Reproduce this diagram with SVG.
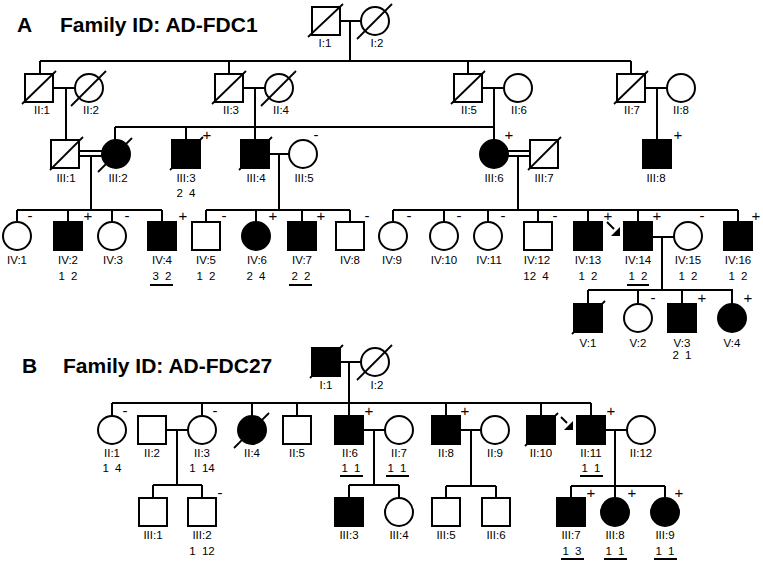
<svg xmlns="http://www.w3.org/2000/svg" width="763" height="563" viewBox="0 0 763 563">
<style>
.s{fill:#fff;stroke:#000;stroke-width:2}
.a{fill:#000;stroke:#000;stroke-width:2}
.d{stroke:#000;stroke-width:1.8;fill:none}
.c line,.c polyline{stroke:#000;stroke-width:2;fill:none}
text{font-family:"Liberation Sans",Arial,sans-serif;fill:#000}
.l{font-size:11.5px;text-anchor:middle}
.n{font-size:11.5px;text-anchor:middle;word-spacing:3px}
.g{font-size:15px;text-anchor:middle}
.t{font-size:21px;font-weight:bold}
.u{stroke:#000;stroke-width:2}
</style>
<rect width="763" height="563" fill="#fff"/>
<text class="t" x="17" y="32">A</text>
<text class="t" x="60" y="32">Family ID: AD-FDC1</text>
<text class="t" x="22" y="373">B</text>
<text class="t" x="63" y="373">Family ID: AD-FDC27</text>

<g id="connectors" class="c">
<!-- Panel A -->
<line x1="340" y1="21" x2="361" y2="21"/>
<line x1="350" y1="21" x2="350" y2="61"/>
<line x1="40" y1="61" x2="631" y2="61"/>
<line x1="40" y1="61" x2="40" y2="74"/>
<line x1="229" y1="61" x2="229" y2="74"/>
<line x1="468" y1="61" x2="468" y2="74"/>
<line x1="631" y1="61" x2="631" y2="74"/>
<line x1="53" y1="88" x2="75" y2="88"/>
<line x1="66" y1="88" x2="66" y2="140"/>
<line x1="243" y1="88" x2="265" y2="88"/>
<line x1="255" y1="88" x2="255" y2="140"/>
<line x1="482" y1="88" x2="504" y2="88"/>
<line x1="494" y1="88" x2="494" y2="140"/>
<line x1="645" y1="88" x2="667" y2="88"/>
<line x1="657" y1="88" x2="657" y2="140"/>
<line x1="115" y1="127" x2="494" y2="127"/>
<line x1="115" y1="127" x2="115" y2="140"/>
<line x1="186" y1="127" x2="186" y2="140"/>
<line x1="79" y1="151" x2="102" y2="151"/>
<line x1="79" y1="156" x2="102" y2="156"/>
<line x1="91" y1="156" x2="91" y2="210"/>
<line x1="269" y1="154" x2="289" y2="154"/>
<line x1="279" y1="154" x2="279" y2="210"/>
<line x1="508" y1="151" x2="530" y2="151"/>
<line x1="508" y1="156" x2="530" y2="156"/>
<line x1="518" y1="156" x2="518" y2="210"/>
<line x1="17" y1="210" x2="162" y2="210"/>
<line x1="17" y1="210" x2="17" y2="222"/>
<line x1="68" y1="210" x2="68" y2="222"/>
<line x1="112" y1="210" x2="112" y2="222"/>
<line x1="162" y1="210" x2="162" y2="222"/>
<line x1="206" y1="210" x2="350" y2="210"/>
<line x1="206" y1="210" x2="206" y2="222"/>
<line x1="256" y1="210" x2="256" y2="222"/>
<line x1="302" y1="210" x2="302" y2="222"/>
<line x1="350" y1="210" x2="350" y2="222"/>
<line x1="393" y1="210" x2="738" y2="210"/>
<line x1="393" y1="210" x2="393" y2="222"/>
<line x1="444" y1="210" x2="444" y2="222"/>
<line x1="488" y1="210" x2="488" y2="222"/>
<line x1="538" y1="210" x2="538" y2="222"/>
<line x1="588" y1="210" x2="588" y2="222"/>
<line x1="638" y1="210" x2="638" y2="222"/>
<line x1="738" y1="210" x2="738" y2="222"/>
<line x1="652" y1="237" x2="674" y2="237"/>
<line x1="662" y1="237" x2="662" y2="290"/>
<line x1="588" y1="290" x2="733" y2="290"/>
<line x1="588" y1="290" x2="588" y2="304"/>
<line x1="638" y1="290" x2="638" y2="304"/>
<line x1="682" y1="290" x2="682" y2="304"/>
<line x1="732" y1="290" x2="732" y2="304"/>
<!-- Panel B -->
<line x1="340" y1="362" x2="361" y2="362"/>
<line x1="349" y1="362" x2="349" y2="416"/>
<line x1="112" y1="403" x2="591" y2="403"/>
<line x1="112" y1="403" x2="112" y2="416"/>
<line x1="202" y1="403" x2="202" y2="416"/>
<line x1="252" y1="403" x2="252" y2="416"/>
<line x1="297" y1="403" x2="297" y2="416"/>
<line x1="446" y1="403" x2="446" y2="416"/>
<line x1="541" y1="403" x2="541" y2="416"/>
<line x1="591" y1="403" x2="591" y2="416"/>
<line x1="166" y1="430" x2="188" y2="430"/>
<line x1="177" y1="430" x2="177" y2="485"/>
<line x1="153" y1="485" x2="202" y2="485"/>
<line x1="153" y1="485" x2="153" y2="498"/>
<line x1="202" y1="485" x2="202" y2="498"/>
<line x1="363" y1="430" x2="385" y2="430"/>
<line x1="374" y1="430" x2="374" y2="485"/>
<line x1="349" y1="485" x2="399" y2="485"/>
<line x1="349" y1="485" x2="349" y2="498"/>
<line x1="399" y1="485" x2="399" y2="498"/>
<line x1="460" y1="430" x2="481" y2="430"/>
<line x1="471" y1="430" x2="471" y2="486"/>
<line x1="446" y1="486" x2="496" y2="486"/>
<line x1="446" y1="486" x2="446" y2="498"/>
<line x1="496" y1="486" x2="496" y2="498"/>
<line x1="605" y1="430" x2="627" y2="430"/>
<line x1="615" y1="430" x2="615" y2="486"/>
<line x1="571" y1="486" x2="665" y2="486"/>
<line x1="571" y1="486" x2="571" y2="498"/>
<line x1="615" y1="486" x2="615" y2="498"/>
<line x1="665" y1="486" x2="665" y2="498"/>
</g>

<!-- Panel A nodes -->
<g id="A-I1"><rect class="s" x="312" y="7" width="28" height="28"/><line class="d" x1="308" y1="37" x2="343" y2="4"/><text class="l" x="325" y="47">I:1</text></g>
<g id="A-I2"><circle class="s" cx="375" cy="21" r="14"/><line class="d" x1="357" y1="39" x2="392" y2="4"/><text class="l" x="377" y="47">I:2</text></g>
<g id="A-II1"><rect class="s" x="25" y="74" width="28" height="28"/><line class="d" x1="22" y1="104" x2="56" y2="71"/><text class="l" x="42" y="114">II:1</text></g>
<g id="A-II2"><circle class="s" cx="89" cy="88" r="14"/><line class="d" x1="71" y1="106" x2="106" y2="71"/><text class="l" x="91" y="114">II:2</text></g>
<g id="A-II3"><rect class="s" x="215" y="74" width="28" height="28"/><line class="d" x1="212" y1="104" x2="246" y2="71"/><text class="l" x="231" y="114">II:3</text></g>
<g id="A-II4"><circle class="s" cx="279" cy="88" r="14"/><line class="d" x1="261" y1="106" x2="296" y2="71"/><text class="l" x="281" y="114">II:4</text></g>
<g id="A-II5"><rect class="s" x="454" y="74" width="28" height="28"/><line class="d" x1="451" y1="104" x2="485" y2="71"/><text class="l" x="469" y="114">II:5</text></g>
<g id="A-II6"><circle class="s" cx="518" cy="88" r="14"/><text class="l" x="519" y="114">II:6</text></g>
<g id="A-II7"><rect class="s" x="617" y="74" width="28" height="28"/><line class="d" x1="614" y1="104" x2="648" y2="71"/><text class="l" x="632" y="114">II:7</text></g>
<g id="A-II8"><circle class="s" cx="681" cy="88" r="14"/><text class="l" x="681" y="114">II:8</text></g>

<g id="A-III1"><rect class="s" x="51" y="140" width="28" height="28"/><line class="d" x1="50" y1="170" x2="83" y2="137"/><text class="l" x="66" y="182">III:1</text></g>
<g id="A-III2"><circle class="a" cx="116" cy="154" r="14"/><line class="d" x1="98" y1="172" x2="132" y2="138"/><text class="l" x="118" y="182">III:2</text></g>
<g id="A-III3"><rect class="a" x="172" y="140" width="28" height="28"/><line class="d" x1="170" y1="170" x2="203" y2="137"/><text class="g" x="207" y="140">+</text><text class="l" x="186" y="182">III:3</text><text class="n" x="186" y="197">2 4</text></g>
<g id="A-III4"><rect class="a" x="241" y="140" width="28" height="28"/><line class="d" x1="239" y1="170" x2="272" y2="137"/><text class="l" x="256" y="182">III:4</text></g>
<g id="A-III5"><circle class="s" cx="303" cy="154" r="14"/><text class="g" x="316" y="140">-</text><text class="l" x="304" y="182">III:5</text></g>
<g id="A-III6"><circle class="a" cx="494" cy="154" r="14"/><text class="g" x="509" y="140">+</text><text class="l" x="494" y="182">III:6</text></g>
<g id="A-III7"><rect class="s" x="530" y="140" width="28" height="28"/><line class="d" x1="528" y1="170" x2="561" y2="137"/><text class="l" x="544" y="182">III:7</text></g>
<g id="A-III8"><rect class="a" x="643" y="140" width="28" height="28"/><text class="g" x="678" y="140">+</text><text class="l" x="656" y="182">III:8</text></g>

<g id="A-IV1"><circle class="s" cx="17" cy="236" r="14"/><text class="g" x="30" y="221">-</text><text class="l" x="17" y="264">IV:1</text></g>
<g id="A-IV2"><rect class="a" x="54" y="222" width="28" height="28"/><text class="g" x="88" y="221">+</text><text class="l" x="68" y="264">IV:2</text><text class="n" x="68" y="280">1 2</text></g>
<g id="A-IV3"><circle class="s" cx="112" cy="236" r="14"/><text class="g" x="127" y="221">-</text><text class="l" x="113" y="264">IV:3</text></g>
<g id="A-IV4"><rect class="a" x="148" y="222" width="28" height="28"/><text class="g" x="183" y="221">+</text><text class="l" x="162" y="264">IV:4</text><text class="n" x="162" y="280">3 2</text><line class="u" x1="150" y1="285" x2="173" y2="285"/></g>
<g id="A-IV5"><rect class="s" x="192" y="222" width="28" height="28"/><text class="g" x="224" y="221">-</text><text class="l" x="206" y="264">IV:5</text><text class="n" x="206" y="280">1 2</text></g>
<g id="A-IV6"><circle class="a" cx="256" cy="236" r="14"/><text class="g" x="273" y="221">+</text><text class="l" x="257" y="264">IV:6</text><text class="n" x="256" y="280">2 4</text></g>
<g id="A-IV7"><rect class="a" x="288" y="222" width="28" height="28"/><text class="g" x="321" y="221">+</text><text class="l" x="302" y="264">IV:7</text><text class="n" x="301" y="280">2 2</text><line class="u" x1="289" y1="285" x2="312" y2="285"/></g>
<g id="A-IV8"><rect class="s" x="336" y="222" width="28" height="28"/><text class="g" x="367" y="221">-</text><text class="l" x="350" y="264">IV:8</text></g>
<g id="A-IV9"><circle class="s" cx="393" cy="236" r="14"/><text class="g" x="409" y="221">-</text><text class="l" x="392" y="264">IV:9</text></g>
<g id="A-IV10"><circle class="s" cx="444" cy="236" r="14"/><text class="g" x="459" y="221">-</text><text class="l" x="444" y="264">IV:10</text></g>
<g id="A-IV11"><circle class="s" cx="488" cy="236" r="14"/><text class="g" x="503" y="221">-</text><text class="l" x="489" y="264">IV:11</text></g>
<g id="A-IV12"><rect class="s" x="524" y="222" width="28" height="28"/><text class="g" x="555" y="221">-</text><text class="l" x="537" y="264">IV:12</text><text class="n" x="536" y="280">12 4</text></g>
<g id="A-IV13"><rect class="a" x="574" y="222" width="28" height="28"/><text class="g" x="608" y="221">+</text><text class="l" x="588" y="264">IV:13</text><text class="n" x="588" y="280">1 2</text></g>
<g id="A-IV14"><rect class="a" x="624" y="222" width="28" height="28"/><line x1="607" y1="222" x2="614" y2="229" stroke="#000" stroke-width="2"/><polygon points="620,227 620,236 611,236" fill="#000"/><text class="g" x="657" y="221">+</text><text class="l" x="638" y="264">IV:14</text><text class="n" x="638" y="280">1 2</text><line class="u" x1="627" y1="285" x2="649" y2="285"/></g>
<g id="A-IV15"><circle class="s" cx="688" cy="236" r="14"/><text class="g" x="702" y="221">-</text><text class="l" x="688" y="264">IV:15</text><text class="n" x="688" y="280">1 2</text></g>
<g id="A-IV16"><rect class="a" x="724" y="222" width="28" height="28"/><text class="g" x="756" y="221">+</text><text class="l" x="738" y="264">IV:16</text><text class="n" x="738" y="280">1 2</text></g>

<g id="A-V1"><rect class="a" x="574" y="304" width="28" height="28"/><line class="d" x1="572" y1="334" x2="605" y2="301"/><text class="l" x="588" y="347">V:1</text></g>
<g id="A-V2"><circle class="s" cx="638" cy="318" r="14"/><text class="g" x="653" y="303">-</text><text class="l" x="638" y="347">V:2</text></g>
<g id="A-V3"><rect class="a" x="668" y="304" width="28" height="28"/><text class="g" x="702" y="303">+</text><text class="l" x="682" y="347">V:3</text><text class="n" x="682" y="359">2 1</text></g>
<g id="A-V4"><circle class="a" cx="732" cy="318" r="14"/><text class="g" x="748" y="303">+</text><text class="l" x="732" y="347">V:4</text></g>

<!-- Panel B nodes -->
<g id="B-I1"><rect class="a" x="312" y="348" width="28" height="28"/><line class="d" x1="310" y1="378" x2="343" y2="345"/><text class="l" x="326" y="389">I:1</text></g>
<g id="B-I2"><circle class="s" cx="375" cy="362" r="14"/><line class="d" x1="357" y1="380" x2="392" y2="345"/><text class="l" x="377" y="389">I:2</text></g>
<g id="B-II1"><circle class="s" cx="112" cy="430" r="14"/><text class="g" x="125" y="416">-</text><text class="l" x="112" y="457">II:1</text><text class="n" x="112" y="472">1 4</text></g>
<g id="B-II2"><rect class="s" x="138" y="416" width="28" height="28"/><text class="l" x="152" y="457">II:2</text></g>
<g id="B-II3"><circle class="s" cx="202" cy="430" r="14"/><text class="g" x="215" y="416">-</text><text class="l" x="202" y="457">II:3</text><text class="n" x="202" y="472">1 14</text></g>
<g id="B-II4"><circle class="a" cx="252" cy="430" r="14"/><line class="d" x1="234" y1="448" x2="269" y2="413"/><text class="l" x="252" y="457">II:4</text></g>
<g id="B-II5"><rect class="s" x="283" y="416" width="28" height="28"/><text class="l" x="297" y="457">II:5</text></g>
<g id="B-II6"><rect class="a" x="335" y="416" width="28" height="28"/><text class="g" x="369" y="416">+</text><text class="l" x="350" y="457">II:6</text><text class="n" x="351" y="472">1 1</text><line class="u" x1="340" y1="476" x2="363" y2="476"/></g>
<g id="B-II7"><circle class="s" cx="399" cy="430" r="14"/><text class="l" x="399" y="457">II:7</text><text class="n" x="397" y="472">1 1</text><line class="u" x1="386" y1="476" x2="409" y2="476"/></g>
<g id="B-II8"><rect class="a" x="432" y="416" width="28" height="28"/><text class="g" x="465" y="416">+</text><text class="l" x="446" y="457">II:8</text></g>
<g id="B-II9"><circle class="s" cx="495" cy="430" r="14"/><text class="l" x="495" y="457">II:9</text></g>
<g id="B-II10"><rect class="a" x="527" y="416" width="28" height="28"/><line class="d" x1="525" y1="446" x2="558" y2="413"/><text class="l" x="541" y="457">II:10</text></g>
<g id="B-II11"><rect class="a" x="577" y="416" width="28" height="28"/><line x1="561" y1="417" x2="567" y2="423" stroke="#000" stroke-width="2"/><polygon points="573,421 573,430 564,430" fill="#000"/><text class="g" x="611" y="416">+</text><text class="l" x="591" y="457">II:11</text><text class="n" x="591" y="472">1 1</text><line class="u" x1="580" y1="476" x2="603" y2="476"/></g>
<g id="B-II12"><circle class="s" cx="641" cy="430" r="14"/><text class="l" x="641" y="457">II:12</text></g>
<g id="B-III1"><rect class="s" x="139" y="498" width="28" height="28"/><text class="l" x="153" y="539">III:1</text></g>
<g id="B-III2"><rect class="s" x="188" y="498" width="28" height="28"/><text class="g" x="220" y="498">-</text><text class="l" x="202" y="539">III:2</text><text class="n" x="202" y="555">1 12</text></g>
<g id="B-III3"><rect class="a" x="335" y="498" width="28" height="28"/><text class="l" x="349" y="539">III:3</text></g>
<g id="B-III4"><circle class="s" cx="399" cy="512" r="14"/><text class="l" x="399" y="539">III:4</text></g>
<g id="B-III5"><rect class="s" x="432" y="498" width="28" height="28"/><text class="l" x="446" y="539">III:5</text></g>
<g id="B-III6"><rect class="s" x="482" y="498" width="28" height="28"/><text class="l" x="496" y="539">III:6</text></g>
<g id="B-III7"><rect class="a" x="557" y="498" width="28" height="28"/><text class="g" x="591" y="498">+</text><text class="l" x="571" y="539">III:7</text><text class="n" x="572" y="555">1 3</text><line class="u" x1="561" y1="559" x2="584" y2="559"/></g>
<g id="B-III8"><circle class="a" cx="615" cy="512" r="14"/><text class="g" x="632" y="498">+</text><text class="l" x="615" y="539">III:8</text><text class="n" x="615" y="555">1 1</text><line class="u" x1="604" y1="559" x2="627" y2="559"/></g>
<g id="B-III9"><circle class="a" cx="665" cy="512" r="14"/><text class="g" x="679" y="498">+</text><text class="l" x="665" y="539">III:9</text><text class="n" x="665" y="555">1 1</text><line class="u" x1="654" y1="559" x2="677" y2="559"/></g>
</svg>
